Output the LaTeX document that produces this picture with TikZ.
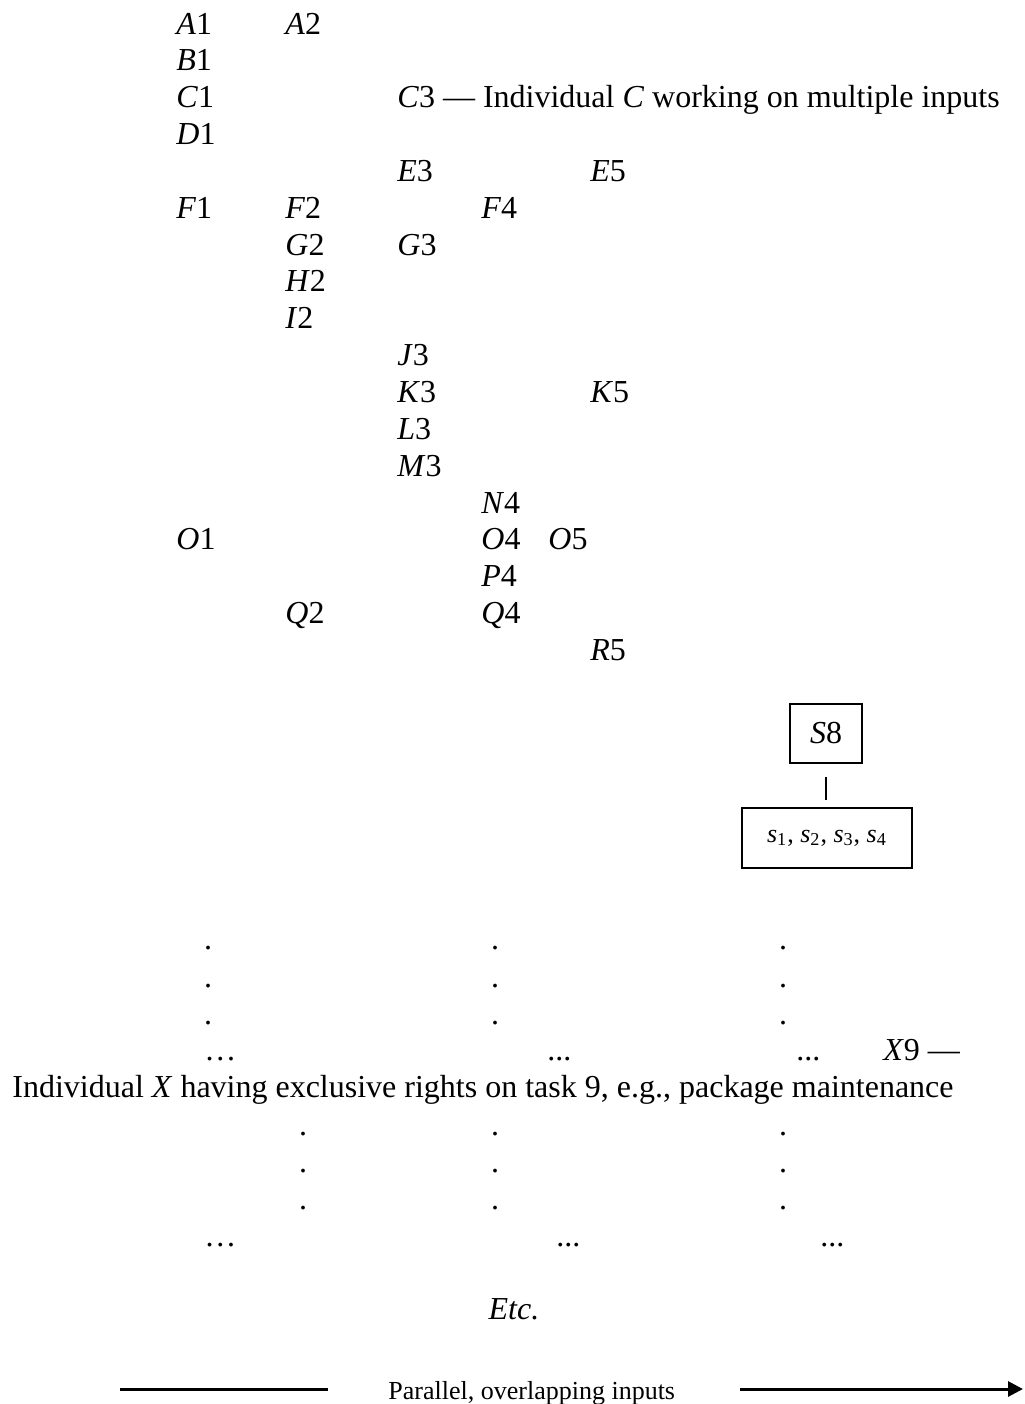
\documentclass[tikz,border=0pt]{standalone}
\usepackage{fontspec}
\setmainfont{Liberation Serif}
\usetikzlibrary{arrows.meta}
\begin{document}
\begin{tikzpicture}[x=0.5pt,y=-0.5pt,
  lbl/.style={anchor=base west, inner sep=0pt, font=\fontsize{16}{19}\selectfont},
  dotn/.style={anchor=base, inner sep=0pt, text height=0.25em, text depth=0pt, font=\fontsize{16}{19}\selectfont},
  elln/.style={anchor=base west, inner sep=0pt, text height=0.25em, text depth=0pt, font=\fontsize{16}{19}\selectfont},
  boxn/.style={draw, line width=0.7pt, inner sep=0pt},
  small/.style={font=\fontsize{13}{15}\selectfont},
  thick line/.style={line width=1.5pt}]
\useasboundingbox (0,0) rectangle (1024,1404);
% rows: baseline = 34 + 36.85*i
\node[lbl] (a1) at (176,34) {\textit{A}1};
\node[lbl] (a2) at (285,34) {\textit{A}2};
\node[lbl] (b1) at (176,70.85) {\textit{B}1};
\node[lbl] (c1) at (176,107.7) {\textit{C}1};
\node[lbl] (c3) at (397,107.7) {\textit{C}3 — Individual \textit{C} working on multiple inputs};
\node[lbl] (d1) at (176,144.55) {\textit{D}1};
\node[lbl] (e3) at (397,181.4) {\textit{E}3};
\node[lbl] (e5) at (590,181.4) {\textit{E}5};
\node[lbl] (f1) at (176,218.25) {\textit{F}1};
\node[lbl] (f2) at (285,218.25) {\textit{F}2};
\node[lbl] (f4) at (481,218.25) {\textit{F}4};
\node[lbl] (g2) at (285,255.1) {\textit{G}2};
\node[lbl] (g3) at (397,255.1) {\textit{G}3};
\node[lbl] (h2) at (285,291.95) {\textit{H}2};
\node[lbl] (i2) at (285,328.8) {\textit{I}2};
\node[lbl] (j3) at (397,365.65) {\textit{J}3};
\node[lbl] (k3) at (397,402.5) {\textit{K}3};
\node[lbl] (k5) at (590,402.5) {\textit{K}5};
\node[lbl] (l3) at (397,439.35) {\textit{L}3};
\node[lbl] (m3) at (397,476.2) {\textit{M}3};
\node[lbl] (n4) at (481,513.05) {\textit{N}4};
\node[lbl] (o1) at (176,549.9) {\textit{O}1};
\node[lbl] (o4) at (481,549.9) {\textit{O}4};
\node[lbl] (o5) at (548,549.9) {\textit{O}5};
\node[lbl] (p4) at (481,586.75) {\textit{P}4};
\node[lbl] (q2) at (285,623.6) {\textit{Q}2};
\node[lbl] (q4) at (481,623.6) {\textit{Q}4};
\node[lbl] (r5) at (590,660.45) {\textit{R}5};
% S8 boxes
\node[boxn, minimum width=36pt, minimum height=29.5pt, font=\fontsize{16}{19}\selectfont] (s8) at (826,733.5) {\textit{S}8};
\node[boxn, small, minimum width=85pt, minimum height=30pt] (sb) at (827,838)
  {\textit{s}\textsubscript{1}, \textit{s}\textsubscript{2}, \textit{s}\textsubscript{3}, \textit{s}\textsubscript{4}};
\draw[line width=0.7pt, shorten <=6.5pt, shorten >=3.5pt] (s8.south) -- (s8.south |- sb.north);
% first block of dots
\node[dotn] (p11) at (208,949) {.};
\node[dotn] (p12) at (495,949) {.};
\node[dotn] (p13) at (783,949) {.};
\node[dotn] (p21) at (208,987) {.};
\node[dotn] (p22) at (495,987) {.};
\node[dotn] (p23) at (783,987) {.};
\node[dotn] (p31) at (208,1024) {.};
\node[dotn] (p32) at (495,1024) {.};
\node[dotn] (p33) at (783,1024) {.};
\node[elln] (e11) at (204,1060) {…};
\node[elln] (e12) at (547,1060) {...};
\node[elln] (e13) at (796,1060) {...};
\node[lbl] (x9) at (883,1060) {\textit{X}9 —};
\node[lbl] (xtxt) at (12,1097) {Individual \textit{X} having exclusive rights on task 9, e.g., package maintenance};
% second block of dots
\node[dotn] (q11) at (303,1135) {.};
\node[dotn] (q12) at (495,1135) {.};
\node[dotn] (q13) at (783,1135) {.};
\node[dotn] (q21) at (303,1172) {.};
\node[dotn] (q22) at (495,1172) {.};
\node[dotn] (q23) at (783,1172) {.};
\node[dotn] (q31) at (303,1209) {.};
\node[dotn] (q32) at (495,1209) {.};
\node[dotn] (q33) at (783,1209) {.};
\node[elln] (e21) at (204,1246) {…};
\node[elln] (e22) at (556,1246) {...};
\node[elln] (e23) at (820,1246) {...};
% Etc.
\node[dotn, text height=, text depth=] (etc) at (514,1319) {\textit{Etc.}};
% bottom arrow
\node[lbl, small] (par) at (388,1399) {Parallel, overlapping inputs};
\coordinate (la) at (120,1389);
\coordinate (lb) at (328,1389);
\coordinate (ra) at (740,1389);
\coordinate (rb) at (1023,1389);
\draw[thick line] (la) -- (lb);
\draw[thick line, -{Triangle[length=7.5pt,width=7.5pt]}] (ra) -- (rb);
\end{tikzpicture}
\end{document}
